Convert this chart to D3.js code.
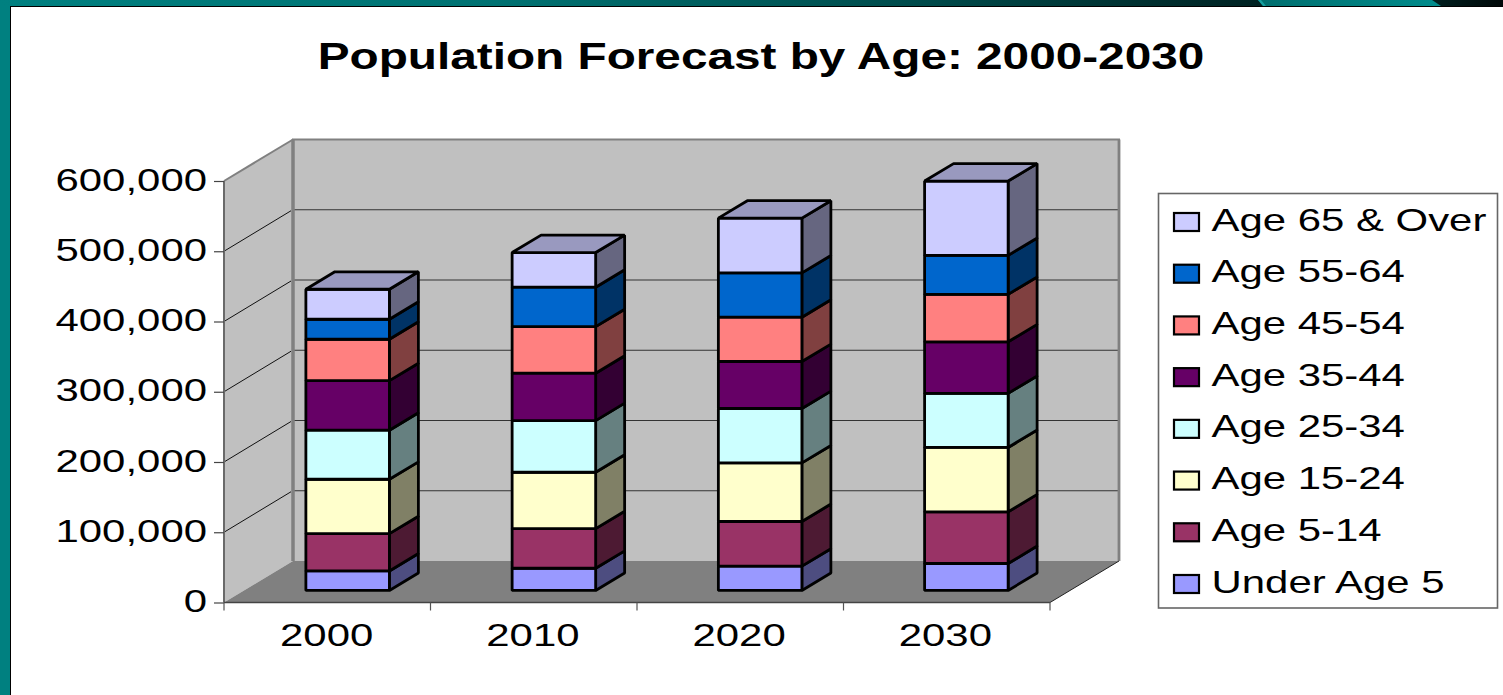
<!DOCTYPE html>
<html>
<head>
<meta charset="utf-8">
<title>Population Forecast by Age: 2000-2030</title>
<script src="https://cdn.jsdelivr.net/npm/d3@7"></script>
<style>
  html, body { margin: 0; padding: 0; background: #fff; overflow: hidden; }
  svg { display: block; }
  text { font-family: "Liberation Sans", Arial, sans-serif; fill: #000; }
</style>
</head>
<body>
<svg id="chart" width="1503" height="695"></svg>
<script>
// Population by age group, one array per group, one value per forecast year.
const years = ["2000", "2010", "2020", "2030"];
const underAge5 = [27800, 31600, 34600, 38400];
const age5to14 = [53100, 56400, 63600, 73500];
const age15to24 = [77400, 80300, 83400, 91700];
const age25to34 = [69800, 73500, 77400, 76900];
const age35to44 = [70600, 67500, 66900, 73500];
const age45to54 = [58900, 66300, 63100, 67500];
const age55to64 = [28500, 56100, 63100, 55500];
const age65Over = [42700, 49300, 77900, 105800];

const groupNames = ["Under Age 5", "Age 5-14", "Age 15-24", "Age 25-34",
                    "Age 35-44", "Age 45-54", "Age 55-64", "Age 65 & Over"];
const groupValues = [underAge5, age5to14, age15to24, age25to34,
                     age35to44, age45to54, age55to64, age65Over];
const groupColors = ["#9999ff", "#993366", "#ffffcc", "#ccffff",
                     "#660066", "#ff8080", "#0066cc", "#ccccff"];
const yTicks = [0, 100000, 200000, 300000, 400000, 500000, 600000];

const svg = d3.select("#chart");

// Slide frame: teal strip across the top and down the left edge.
const defs = svg.append("defs");
const stripGrad = defs.append("linearGradient").attr("id", "stripGrad");
[[0, "#008080"], [0.33, "#007272"], [0.62, "#004a4a"], [0.84, "#002222"], [1, "#001a1a"]]
  .forEach(([o, c]) => stripGrad.append("stop").attr("offset", o).attr("stop-color", c));
const endGrad = defs.append("linearGradient").attr("id", "endGrad");
[[0, "#002020"], [1, "#000808"]]
  .forEach(([o, c]) => endGrad.append("stop").attr("offset", o).attr("stop-color", c));
const bandGrad = defs.append("linearGradient").attr("id", "bandGrad");
[[0, "#006e6e"], [1, "#008c8c"]]
  .forEach(([o, c]) => bandGrad.append("stop").attr("offset", o).attr("stop-color", c));

svg.append("rect").attr("x", 0).attr("y", 0).attr("width", 10).attr("height", 695).attr("fill", "#008080");
svg.append("rect").attr("x", 0).attr("y", 0).attr("width", 1503).attr("height", 6).attr("fill", "url(#stripGrad)");
svg.append("rect").attr("x", 1430).attr("y", 0).attr("width", 73).attr("height", 6).attr("fill", "url(#endGrad)");
svg.append("polygon").attr("points", "1258,0 1432,0 1441,6 1263,6").attr("fill", "url(#bandGrad)");
svg.append("polygon").attr("points", "1258,0 1261,0 1266,6 1263,6").attr("fill", "#14a0a0");
svg.append("rect").attr("x", 10).attr("y", 6).attr("width", 1493).attr("height", 1).attr("fill", "#000");
svg.append("rect").attr("x", 10).attr("y", 6).attr("width", 1).attr("height", 689).attr("fill", "#000");

// Scales: x and y address the front plane of the plot box.
const x = d3.scaleBand().domain(years).range([224, 1050]).paddingInner(0.595).paddingOuter(0.3);
const y = d3.scaleLinear().domain([0, 600000]).range([602.5, 181]);

// Oblique projection: depth 0 is the front plane, depth 1 the back wall.
const depthX = 69, depthY = 41.5;
const px = (sx, depth) => sx + depth * depthX;
const py = (sy, depth) => sy - depth * depthY;
const pts = a => a.map(p => p.join(",")).join(" ");

// Walls and floor.
const xL = x.range()[0], xR = x.range()[1];
const plot = svg.append("g");
plot.append("polygon")
  .attr("points", pts([[xL, y(600000)], [px(xL, 1), py(y(600000), 1)], [px(xL, 1), py(y(0), 1)], [xL, y(0)]]))
  .attr("fill", "#c0c0c0");
plot.append("polygon")
  .attr("points", pts([[px(xL, 1), py(y(600000), 1)], [px(xR, 1), py(y(600000), 1)], [px(xR, 1), py(y(0), 1)], [px(xL, 1), py(y(0), 1)]]))
  .attr("fill", "#c0c0c0");
plot.append("polygon")
  .attr("points", pts([[xL, y(0)], [px(xL, 1), py(y(0), 1)], [px(xR, 1), py(y(0), 1)], [xR, y(0)]]))
  .attr("fill", "#808080");

// Gridlines run along the left wall and then across the back wall.
const gridValues = yTicks.filter(v => v > 0 && v < 600000);
plot.selectAll("line.side").data(gridValues).join("line").attr("class", "side")
  .attr("x1", xL).attr("y1", d => y(d))
  .attr("x2", px(xL, 1) - 2).attr("y2", d => py(y(d), 1) + 1)
  .attr("stroke", "#111").attr("stroke-width", 1);
plot.selectAll("line.back").data(gridValues).join("line").attr("class", "back")
  .attr("x1", px(xL, 1)).attr("y1", d => py(y(d), 1))
  .attr("x2", px(xR, 1)).attr("y2", d => py(y(d), 1))
  .attr("stroke", "#333").attr("stroke-width", 1.1);

// Wall edges.
const edge = (a, b, c, w) => plot.append("line")
  .attr("x1", a[0]).attr("y1", a[1]).attr("x2", b[0]).attr("y2", b[1])
  .attr("stroke", c).attr("stroke-width", w);
edge([px(xL, 1), py(y(600000), 1)], [px(xL, 1), py(y(0), 1)], "#808080", 3.5);
edge([px(xL, 1) - 1, py(y(600000), 1)], [px(xR, 1) + 1, py(y(600000), 1)], "#808080", 2.2);
edge([px(xR, 1), py(y(600000), 1)], [px(xR, 1), py(y(0), 1)], "#808080", 2.8);
edge([xL, y(600000)], [px(xL, 1), py(y(600000), 1)], "#808080", 2);
edge([xL, y(600000)], [xL, y(0)], "#6a6a6a", 2);
edge([xL, y(0)], [xR, y(0)], "#444", 1.4);
edge([xR, y(0)], [px(xR, 1), py(y(0), 1)], "#222", 1);

// Stacked columns, each a box with front, side and top faces.
const rows = years.map((yr, i) => {
  const row = { year: yr };
  groupNames.forEach((n, g) => { row[n] = groupValues[g][i]; });
  return row;
});
const stacked = d3.stack().keys(groupNames)(rows);
const barDepth = 0.42, frontDepth = (1 - barDepth) / 2, backDepth = frontDepth + barDepth;
const bars = svg.append("g").attr("stroke", "#000").attr("stroke-width", 2.8).attr("stroke-linejoin", "bevel");

years.forEach((yr, i) => {
  const x0 = x(yr), x1 = x0 + x.bandwidth();
  stacked.forEach((layer, g) => {
    const [lo, hi] = layer[i];
    const base = d3.rgb(groupColors[g]);
    const shade = k => d3.rgb(base.r * k, base.g * k, base.b * k).formatHex();
    bars.append("polygon")
      .attr("points", pts([[px(x1, frontDepth), py(y(lo), frontDepth)], [px(x1, backDepth), py(y(lo), backDepth)],
                           [px(x1, backDepth), py(y(hi), backDepth)], [px(x1, frontDepth), py(y(hi), frontDepth)]]))
      .attr("fill", shade(0.5));
    bars.append("polygon")
      .attr("points", pts([[px(x0, frontDepth), py(y(lo), frontDepth)], [px(x1, frontDepth), py(y(lo), frontDepth)],
                           [px(x1, frontDepth), py(y(hi), frontDepth)], [px(x0, frontDepth), py(y(hi), frontDepth)]]))
      .attr("fill", base.formatHex());
    if (g === groupNames.length - 1) {
      bars.append("polygon")
        .attr("points", pts([[px(x0, frontDepth), py(y(hi), frontDepth)], [px(x1, frontDepth), py(y(hi), frontDepth)],
                             [px(x1, backDepth), py(y(hi), backDepth)], [px(x0, backDepth), py(y(hi), backDepth)]]))
        .attr("fill", shade(0.75));
    }
  });
});

// The type is set wide: glyphs are stretched horizontally about their anchor.
const wide = (sel, tx, ty, sx) => sel.attr("x", 0).attr("y", 0).attr("dy", null)
  .attr("transform", `translate(${tx},${ty}) scale(${sx},1)`);

const labelSize = 32, labelStretch = 1.31;

// Value axis.
const yAxis = svg.append("g").attr("transform", `translate(${xL},0)`)
  .call(d3.axisLeft(y).tickValues(yTicks).tickSize(10).tickFormat(d3.format(",")));
yAxis.select(".domain").remove();
yAxis.selectAll(".tick line").attr("stroke", "#444").attr("stroke-width", 1.2);
yAxis.selectAll(".tick text")
  .style("font-size", labelSize + "px").attr("text-anchor", "end")
  .call(wide, -17, 9, labelStretch);

// Category axis: labels at the band centres, tick marks on the band boundaries.
const step = (xR - xL) / years.length;
const xAxis = svg.append("g").attr("transform", `translate(0,${y(0)})`)
  .call(d3.axisBottom(x).tickSize(0));
xAxis.select(".domain").remove();
xAxis.selectAll(".tick line").remove();
xAxis.selectAll(".tick text")
  .style("font-size", labelSize + "px").attr("text-anchor", "middle")
  .call(wide, -1, 43.5, labelStretch);
xAxis.selectAll("line.mark").data(d3.range(years.length + 1)).join("line").attr("class", "mark")
  .attr("x1", i => xL + i * step).attr("x2", i => xL + i * step)
  .attr("y1", 0).attr("y2", 8)
  .attr("stroke", "#555").attr("stroke-width", 1.2);

// Title.
svg.append("text").text("Population Forecast by Age: 2000-2030")
  .style("font-size", "37px").style("font-weight", "bold").attr("text-anchor", "middle")
  .call(wide, 761, 68.5, 1.29);

// Legend, listed from the top of the stack down.
const legend = svg.append("g");
legend.append("rect").attr("x", 1158.5).attr("y", 193.5).attr("width", 339).attr("height", 414.5)
  .attr("fill", "#fff").attr("stroke", "#666").attr("stroke-width", 1.6);
const legendY = d3.scalePoint().domain(groupNames.slice().reverse()).range([222, 584]);
const legendRows = legend.selectAll("g").data(groupNames.slice().reverse()).join("g")
  .attr("transform", d => `translate(0,${legendY(d)})`);
legendRows.append("rect").attr("x", 1174).attr("y", -9).attr("width", 25).attr("height", 18)
  .attr("fill", d => groupColors[groupNames.indexOf(d)])
  .attr("stroke", "#000").attr("stroke-width", 2.2);
legendRows.append("text").text(d => d)
  .style("font-size", labelSize + "px")
  .call(wide, 1211.5, 8.5, labelStretch);
</script>
</body>
</html>
